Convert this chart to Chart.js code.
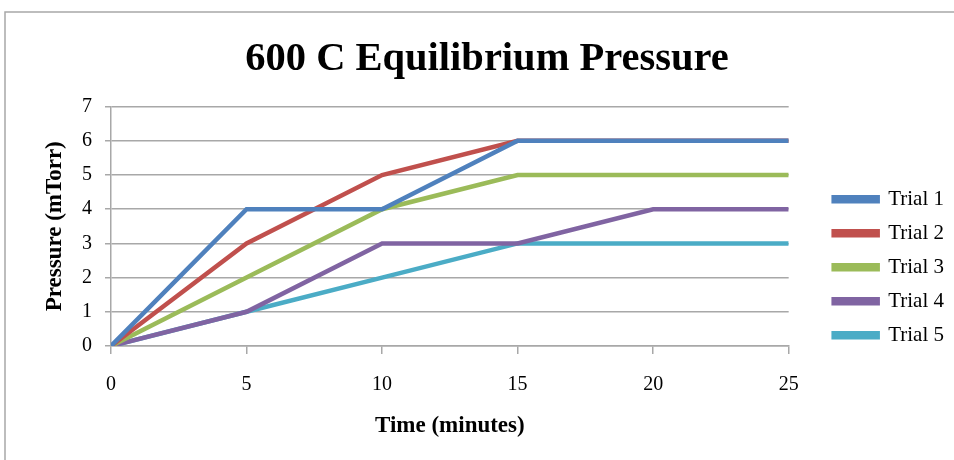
<!DOCTYPE html>
<html>
<head>
<meta charset="utf-8">
<script src="https://cdn.jsdelivr.net/npm/chart.js@4.4.1/dist/chart.umd.min.js"></script>
<style>
  html, body { margin: 0; padding: 0; background: #fff; }
  #wrap { width: 954px; height: 460px; }
</style>
</head>
<body>
<div id="wrap"><canvas id="chart"></canvas></div>
<script>
const times = [0, 5, 10, 15, 20, 25];
const trial1 = [0, 4, 4, 6, 6, 6];
const trial2 = [0, 3, 5, 6, 6, 6];
const trial3 = [0, 2, 4, 5, 5, 5];
const trial4 = [0, 1, 3, 3, 4, 4];
const trial5 = [0, 1, 2, 3, 3, 3];
const names = ["Trial 1", "Trial 2", "Trial 3", "Trial 4", "Trial 5"];
const colors = ["#4F81BD", "#C0504D", "#9BBB59", "#8064A2", "#4BACC6"];

const serif = "'Liberation Serif', 'Times New Roman', serif";

// points for a series
const pts = arr => arr.map((v, i) => ({ x: times[i], y: v }));

const series = [trial1, trial2, trial3, trial4, trial5];

// grey frame round the whole chart
const frame = {
  id: "frame",
  beforeDraw(chart) {
    const ctx = chart.ctx;
    ctx.save();
    ctx.fillStyle = "#fff";
    ctx.fillRect(0, 0, chart.width, chart.height);
    ctx.strokeStyle = "#a8a8a8";
    ctx.lineWidth = 1.5;
    ctx.strokeRect(5, 12, chart.width + 20, chart.height + 20);
    ctx.restore();
  }
};

new Chart(document.getElementById("chart"), {
  type: "line",
  data: {
    datasets: series.map((s, i) => ({
      label: names[i],
      data: pts(s),
      borderColor: colors[i],
      backgroundColor: colors[i],
      borderWidth: 4.5,
      pointRadius: 0,
      tension: 0
    }))
  },
  options: {
    responsive: true,
    maintainAspectRatio: false,
    animation: false,
    layout: { padding: { left: 20, right: 0, top: 0, bottom: 0 } },
    plugins: {
      title: {
        display: true,
        text: "600 C Equilibrium Pressure",
        color: "#000",
        font: { family: serif, size: 40.5, weight: "bold" },
        padding: { top: 35, bottom: 23 }
      },
      legend: {
        position: "right",
        title: {
          // blank title, pushes the items down
          display: true,
          text: " ",
          color: "rgba(0,0,0,0)",
          font: { size: 12 },
          padding: { top: 30, bottom: 30 }
        },
        labels: {
          color: "#000",
          font: { family: serif, size: 21 },
          boxWidth: 44,
          boxHeight: 4,
          padding: 13
        }
      },
      tooltip: { enabled: false }
    },
    scales: {
      x: {
        type: "linear",
        min: 0,
        max: 25,
        afterFit(s) { s.height = 114; },
        ticks: {
          stepSize: 5,
          color: "#000",
          padding: 19,
          font: { family: serif, size: 20 }
        },
        grid: { drawOnChartArea: false, color: "#a8a8a8", lineWidth: 1.5, tickLength: 8 },
        border: { color: "#a8a8a8", width: 1.5 },
        title: {
          display: true,
          text: "Time (minutes)",
          color: "#000",
          font: { family: serif, size: 23, weight: "bold" },
          padding: { top: 18, bottom: 20 }
        }
      },
      y: {
        min: 0,
        max: 7,
        afterFit(s) { s.width = 91; },
        ticks: {
          stepSize: 1,
          color: "#000",
          padding: 13,
          font: { family: serif, size: 20 }
        },
        grid: { color: "#a8a8a8", lineWidth: 1.5, tickLength: 6 },
        border: { color: "#a8a8a8", width: 1.5 },
        title: {
          display: true,
          text: "Pressure (mTorr)",
          color: "#000",
          font: { family: serif, size: 23, weight: "bold" },
          padding: { top: 21, bottom: 4 }
        }
      },
      // empty axis, only keeps a gap between plot and legend
      gap: {
        position: "right",
        display: true,
        ticks: { display: false },
        grid: { display: false },
        border: { display: false },
        afterFit(s) { s.width = 32; }
      }
    }
  },
  plugins: [frame]
});
</script>
</body>
</html>
